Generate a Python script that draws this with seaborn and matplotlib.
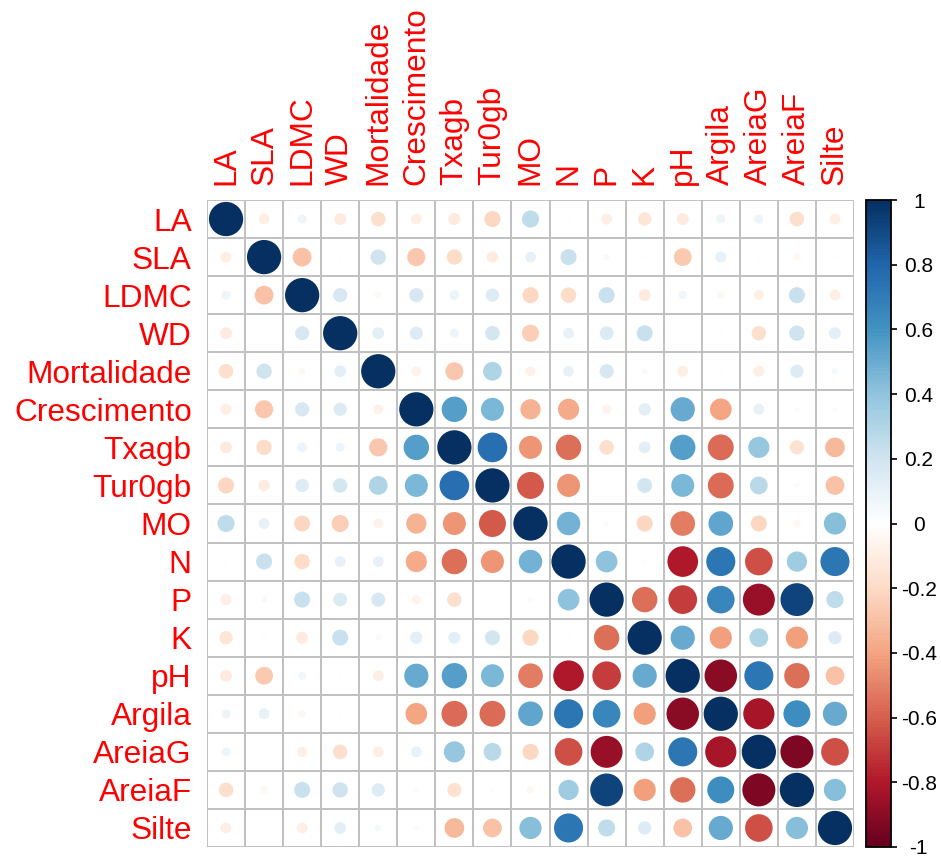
import numpy as np
import pandas as pd
import matplotlib
matplotlib.use("Agg")
import matplotlib.pyplot as plt
import seaborn as sns
from matplotlib.colors import LinearSegmentedColormap, Normalize
from matplotlib.cm import ScalarMappable

variables = ["LA", "SLA", "LDMC", "WD", "Mortalidade", "Crescimento", "Txagb",
             "Tur0gb", "MO", "N", "P", "K", "pH", "Argila", "AreiaG", "AreiaF", "Silte"]

# Upper triangle of the correlation matrix: each list holds the values
# to the right of the diagonal for that variable.
r_LA = [-0.10, 0.07, -0.12, -0.18, -0.10, -0.12, -0.22, 0.25, 0.01, -0.10, -0.15, -0.12, 0.07, 0.07, -0.18, -0.10]
r_SLA = [-0.30, 0.01, 0.20, -0.28, -0.20, -0.11, 0.10, 0.22, 0.03, -0.02, -0.27, 0.10, 0.01, -0.05, 0.01]
r_LDMC = [0.17, -0.04, 0.17, 0.08, 0.15, -0.22, -0.20, 0.22, -0.12, 0.06, -0.05, -0.09, 0.22, -0.10]
r_WD = [0.12, 0.15, 0.07, 0.18, -0.25, 0.10, 0.16, 0.22, 0.01, 0.01, -0.18, 0.20, 0.12]
r_Mortalidade = [-0.08, -0.28, 0.30, -0.08, 0.10, 0.17, 0.03, -0.10, 0.01, -0.10, 0.15, 0.04]
r_Crescimento = [0.55, 0.45, -0.35, -0.38, -0.07, 0.13, 0.50, -0.40, 0.10, 0.02, 0.02]
r_Txagb = [0.75, -0.45, -0.55, -0.18, 0.12, 0.55, -0.57, 0.38, -0.17, -0.33]
r_Tur0gb = [-0.62, -0.45, 0.00, 0.19, 0.45, -0.57, 0.27, 0.02, -0.30]
r_MO = [0.47, 0.02, -0.22, -0.52, 0.52, -0.22, -0.05, 0.42]
r_N = [0.40, 0.01, -0.80, 0.72, -0.65, 0.35, 0.72]
r_P = [-0.55, -0.70, 0.65, -0.87, 0.92, 0.25]
r_K = [0.50, -0.42, 0.30, -0.42, 0.15]
r_pH = [-0.90, 0.72, -0.55, -0.30]
r_Argila = [-0.83, 0.62, 0.50]
r_AreiaG = [-0.93, -0.65]
r_AreiaF = [0.42]

upper_rows = [r_LA, r_SLA, r_LDMC, r_WD, r_Mortalidade, r_Crescimento, r_Txagb,
              r_Tur0gb, r_MO, r_N, r_P, r_K, r_pH, r_Argila, r_AreiaG, r_AreiaF]

n = len(variables)
corr = np.eye(n)
for i, row in enumerate(upper_rows):
    for k, v in enumerate(row):
        j = i + 1 + k
        corr[i, j] = corr[j, i] = v

records = [(i, j, corr[i, j]) for i in range(n) for j in range(n)]
df = pd.DataFrame(records, columns=["row", "col", "r"])
df["mag"] = df["r"].abs()

sns.set_theme(style="white")
plt.rcParams["font.family"] = ["Liberation Sans", "DejaVu Sans"]

cmap = LinearSegmentedColormap.from_list(
    "corr_rdbu",
    ["#67001F", "#B2182B", "#D6604D", "#F4A582", "#FDDBC7", "#FFFFFF",
     "#D1E5F0", "#92C5DE", "#4393C3", "#2166AC", "#053061"],
    N=200,
)

W, H, DPI = 941, 860, 100
fig = plt.figure(figsize=(W / DPI, H / DPI), dpi=DPI)
fig.patch.set_facecolor("white")

gx0, gy1, gsize = 207, 847, 647
ax = fig.add_axes([gx0 / W, 1 - gy1 / H, gsize / W, gsize / H])

cell_px = gsize / n
full_diam_pt = 0.9 * cell_px * 72 / DPI

# grid of cells
for k in range(n + 1):
    ax.axhline(k - 0.5, color="#C0C0C0", lw=1.4, zorder=1)
    ax.axvline(k - 0.5, color="#C0C0C0", lw=1.4, zorder=1)

sns.scatterplot(
    data=df, x="col", y="row", hue="r", palette=cmap, hue_norm=(-1, 1),
    size="mag", sizes=(0, full_diam_pt ** 2), size_norm=(0, 1),
    linewidth=0, legend=False, ax=ax, zorder=3,
)

ax.set_xlim(-0.5, n - 0.5)
ax.set_ylim(n - 0.5, -0.5)
for s in ax.spines.values():
    s.set_visible(False)
ax.set_xlabel("")
ax.set_ylabel("")
ax.set_xticks(range(n))
ax.set_xticklabels(variables, rotation=90, color="red", fontsize=22.8)
ax.set_yticks(range(n))
ax.set_yticklabels(variables, color="red", fontsize=22.8)
ax.xaxis.tick_top()
ax.tick_params(axis="both", length=0, pad=11)

# colour legend
cax = fig.add_axes([866 / W, 1 - gy1 / H, 25 / W, gsize / H])
cb = fig.colorbar(ScalarMappable(norm=Normalize(-1, 1), cmap=cmap), cax=cax)
ticks = np.round(np.arange(-1, 1.01, 0.2), 1)
cb.set_ticks(ticks)
cb.set_ticklabels([("%g" % t) if t != 0 else "0" for t in ticks])
cb.outline.set_edgecolor("black")
cb.outline.set_linewidth(1.3)
cax.tick_params(axis="y", length=4, width=1.2, color="black", pad=16,
                labelsize=15, labelcolor="black", right=True)
for lbl in cax.get_yticklabels():
    lbl.set_horizontalalignment("center")

fig.savefig("out.png", dpi=DPI, facecolor="white")
